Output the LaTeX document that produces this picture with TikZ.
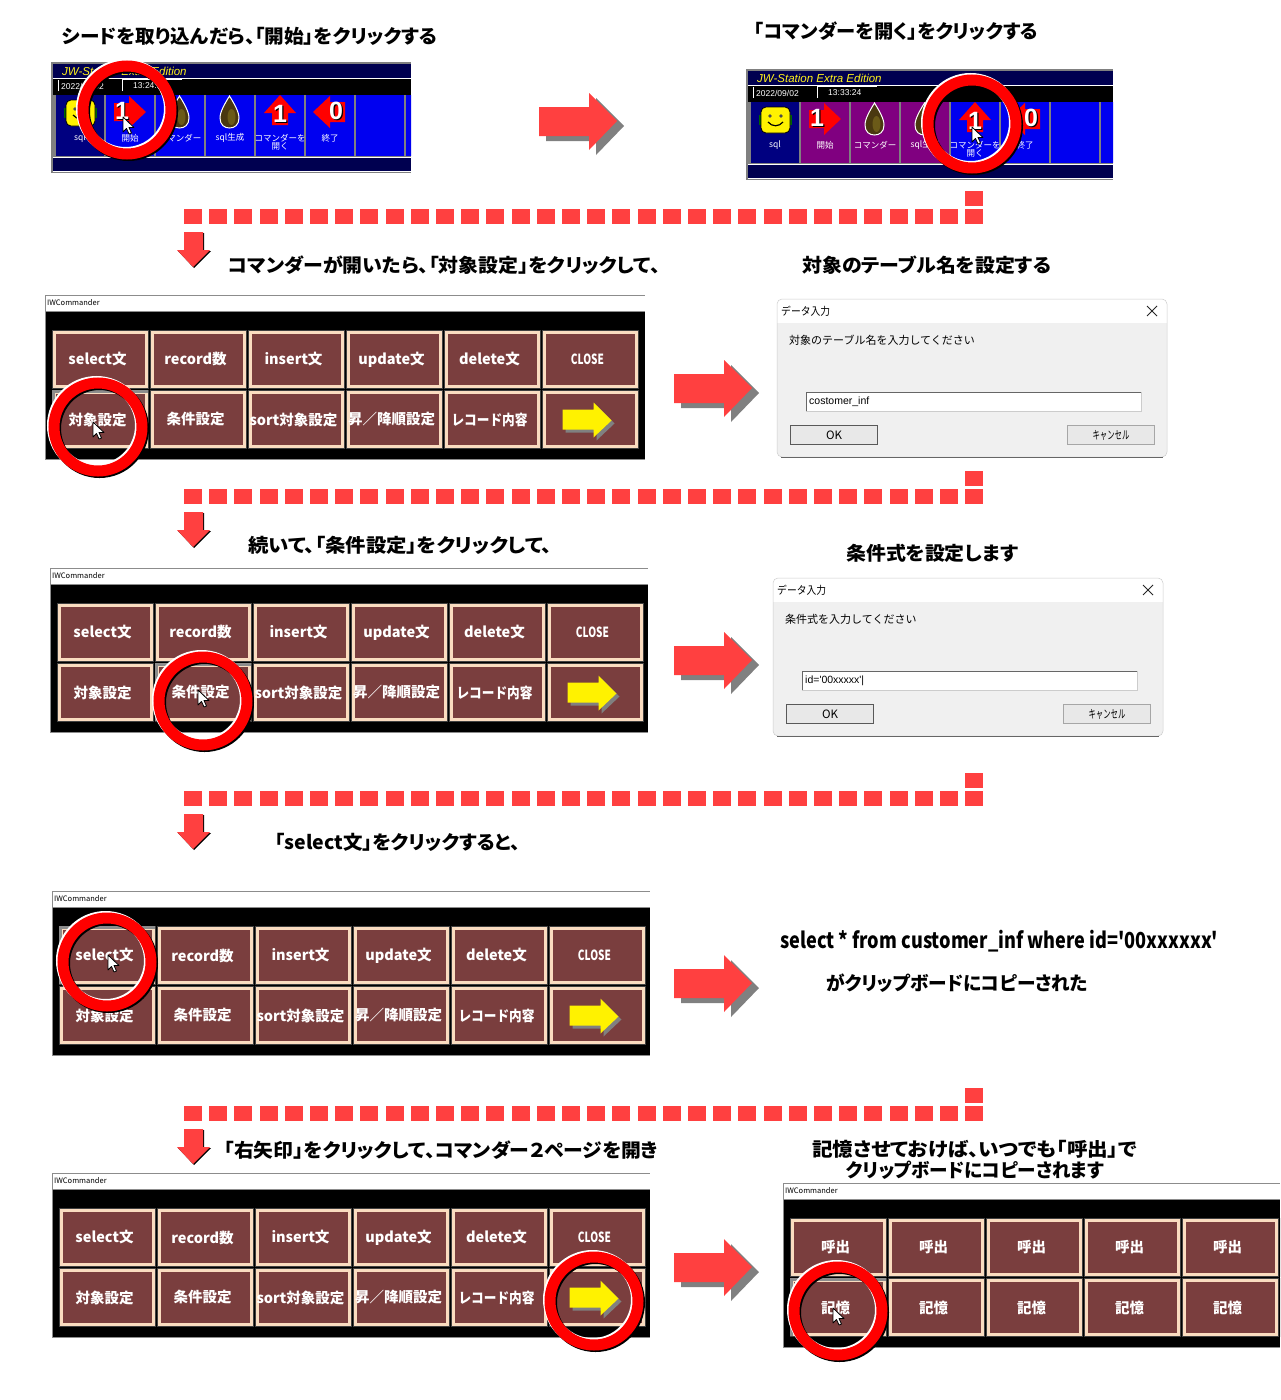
\documentclass[tikz,border=0pt]{standalone}
\usepackage{graphicx}
\usepackage{fontspec}
\usepackage{tikz}
\usetikzlibrary{calc}
\setmainfont{Noto Sans CJK JP}
\newfontfamily\latinfont{Liberation Sans}
\newfontfamily\headfont[RawFeature=+palt]{Noto Sans CJK JP}
\newfontfamily\closefont[FakeStretch=0.72]{Noto Sans CJK JP}
\definecolor{arrowred}{HTML}{FF4040}
\definecolor{btnfill}{HTML}{7A3E3E}
\definecolor{btnedge}{HTML}{FADCC0}
\definecolor{navyband}{HTML}{000050}
\definecolor{navytile}{HTML}{000080}
\definecolor{tileblue}{HTML}{0000F0}
\definecolor{tilepurple}{HTML}{800080}
\definecolor{dialogbody}{HTML}{F0F0F0}
\definecolor{eggbrown}{HTML}{4A3810}
\definecolor{eggolive}{HTML}{6B5A18}
\tikzstyle{headline} = [anchor=west, inner sep=0pt, font=\headfont\fontsize{19}{19}\selectfont\bfseries]
\tikzstyle{cmdbtn} = [rectangle, draw=btnedge, fill=btnfill, line width=3pt, minimum width=92pt, minimum height=54pt, inner sep=0pt, text=white, font=\fontsize{14.5}{14.5}\selectfont\bfseries, preaction={draw=black!75, line width=5pt}]
\tikzstyle{pressedline} = [draw=black!45, line width=3pt]
\tikzstyle{wintitle} = [anchor=west, inner sep=0pt, font=\fontsize{7.5}{7.5}\selectfont]
\tikzstyle{tilelabel} = [inner sep=0pt, text=white, font=\fontsize{8.5}{9}\selectfont]
\tikzstyle{bigdigit} = [inner sep=0pt, font=\latinfont\fontsize{25}{25}\selectfont\bfseries]
\tikzstyle{dlgtext} = [anchor=west, inner sep=0pt, font=\fontsize{11}{11}\selectfont]
\tikzstyle{dlgbtn} = [rectangle, fill=black!9, inner sep=0pt, minimum width=87pt, minimum height=19pt, font=\fontsize{11.5}{11.5}\selectfont]
\tikzstyle{ringred} = [circle, draw=red, line width=11pt, minimum size=88pt, inner sep=0pt]
\tikzstyle{ringwhite} = [ringred, draw=white]
\tikzstyle{ringblack} = [ringred, draw=black]
\tikzstyle{cursorpath} = [fill=white, draw=black, line width=0.8pt, line join=round]
\newcommand{\fitw}[2]{\resizebox{#1pt}{\height}{#2}}
\newcommand{\closelabel}{{\closefont\fontsize{14}{14}\selectfont\bfseries CLOSE}}
\newcommand{\recordlabel}{\fitw{76}{レコード内容}}
% big arrow between two steps
\newcommand{\nextarrow}[2]{
    \fill[black!50] (#1+7,#2-9) -- (#1+57,#2-9) -- (#1+57,#2-23) -- (#1+85,#2+5) -- (#1+57,#2+34) -- (#1+57,#2+20) -- (#1+7,#2+20) -- cycle;
    \fill[arrowred] (#1,#2-14) -- (#1+50,#2-14) -- (#1+50,#2-28) -- (#1+78,#2) -- (#1+50,#2+29) -- (#1+50,#2+15) -- (#1,#2+15) -- cycle;
}
% row of squares and the small arrow under it
\newcommand{\dashrow}[1]{
    \foreach \i in {0,...,31}
        \fill[arrowred] (184+25.2*\i,#1) rectangle +(18,15);
    \fill[arrowred] (965,#1-18) rectangle +(18,15);
    \fill[black] (185,#1+24) -- (204,#1+24) -- (204,#1+42) -- (211,#1+42) -- (194,#1+59) -- (178,#1+42) -- (185,#1+42) -- cycle;
    \fill[arrowred] (184,#1+23) -- (203,#1+23) -- (203,#1+41) -- (210,#1+41) -- (193,#1+58) -- (177,#1+41) -- (184,#1+41) -- cycle;
}
\newcommand{\clickring}[3]{
    \node (#1w) [ringwhite] at (#2-1.5,#3-1.5) {};
    \node (#1b) [ringblack] at (#2+1.5,#3+1.5) {};
    \node (#1) [ringred] at (#2,#3) {};
}
\newcommand{\mousecursor}[2]{
    \draw[cursorpath] (#1,#2) -- (#1,#2+15) -- (#1+3.5,#2+11.5) -- (#1+6,#2+17) -- (#1+8.5,#2+16) -- (#1+6,#2+10.5) -- (#1+11,#2+10.5) -- cycle;
}
% commander window: name, x, y, width, first row, second row
\newcommand{\cmdpanel}[6]{
    \begin{scope}[shift={(#2,#3)}]
        \fill[black] (0,16) rectangle (#4,164);
        \fill[white] (0,0) rectangle (#4,16);
        \draw[black!45, line width=0.8pt] (0,164) -- (0,0) -- (#4,0);
        \draw[black!45, line width=0.8pt] (0,164) -- (#4,164) (0,16) -- (#4,16);
        \node (#1title) [wintitle] at (2,8) {IWCommander};
        \foreach \lab [count=\n] in {#5}
            \node (#1r1c\n) [cmdbtn] at (55.5+98*\n-98,64.5) {\hspace*{-6pt}\lab};
        \foreach \lab [count=\n] in {#6}
            \node (#1r2c\n) [cmdbtn] at (55.5+98*\n-98,124.5) {\hspace*{-6pt}\lab};
    \end{scope}
}
\newcommand{\yellowmark}[1]{
    \begin{scope}[shift={(#1.center)}]
        \fill[black!50] (-25,-7) -- (6,-7) -- (6,-14) -- (24,4) -- (6,21) -- (6,13) -- (-25,13) -- cycle;
        \fill[yellow] (-28,-10) -- (3,-10) -- (3,-17) -- (21,1) -- (3,18) -- (3,10) -- (-28,10) -- cycle;
    \end{scope}
}
\newcommand{\pressedbtn}[1]{
    \draw[pressedline] (#1.south west) |- (#1.north east);
}
% icons of the small tool strip
\newcommand{\eggicon}[2]{
    \begin{scope}[shift={(#1,#2)}]
        \draw[fill=eggbrown, draw=white, line width=1pt] (0,-16) .. controls (5,-8) and (9.5,0) .. (9.5,6) .. controls (9.5,13) and (5,16) .. (0,16) .. controls (-5,16) and (-9.5,13) .. (-9.5,6) .. controls (-9.5,0) and (-5,-8) .. (0,-16) -- cycle;
        \fill[eggolive] (2,5) ellipse (4pt and 8pt);
    \end{scope}
}
\newcommand{\digitmark}[4]{
    \node (#1s) [bigdigit, text=black] at (#2+1.2,#3+1.2) {#4};
    \node (#1) [bigdigit, text=white] at (#2,#3) {#4};
}
% tool strip: name, x, y, width, colour of tiles 2-4, time
\newcommand{\toolstrip}[6]{
    \begin{scope}[shift={(#2,#3)}]
        \clip (0,0) rectangle (#4,111);
        \fill[black!50] (0,0) rectangle (#4,111);
        \fill[navyband] (2,2) rectangle (#4,16);
        \fill[black] (2,17) rectangle (#4,33);
        \fill[white] (2,16) rectangle (#4,17);
        \fill[navyband] (2,96) rectangle (#4,109);
        \fill[white] (2,95) rectangle (#4,96);
        \fill[white] (2,109) rectangle (#4,110);
        \foreach \t in {1,...,7}
            \fill[tileblue] (5+50*\t,33) rectangle +(48,61);
        \foreach \t in {1,...,3}
            \fill[#5] (5+50*\t,33) rectangle +(48,61);
        \fill[navytile] (5,33) rectangle +(48,61);
        \node (#1name) [anchor=west, inner sep=0pt, text=yellow!90!white, font=\latinfont\fontsize{11.5}{11.5}\selectfont\itshape] at (11,9) {JW-Station Extra Edition};
        \draw[white, line width=0.8pt] (7,29) -- (7,18) (71,29) -- (71,18);
        \fill[white] (71,17) rectangle (131,18);
        \node (#1date) [anchor=west, inner sep=0pt, text=white, font=\latinfont\fontsize{8.5}{8.5}\selectfont] at (10,24) {2022/09/02};
        \node (#1time) [anchor=west, inner sep=0pt, text=white, font=\latinfont\fontsize{8.5}{8.5}\selectfont] at (82,24) {#6};
        % face
        \fill[green!40!black] (13,46) rectangle (46,56);
        \draw[fill=yellow, draw=black, line width=0.8pt, rounded corners=5pt] (15,38) rectangle (44,64);
        \fill[black!70] (24,47) circle (1.8pt) (35,47) circle (1.8pt);
        \draw[black, line width=1.2pt] (22,53) .. controls (26,58) and (33,58) .. (37,53);
        \node (#1sql) [tilelabel] at (29,76) {sql};
        % start
        \fill[red] (63,41) -- (78,41) -- (78,34) -- (95,50) -- (78,66) -- (78,59) -- (63,59) -- cycle;
        \digitmark{#1one}{71}{49}{1}
        \node (#1start) [tilelabel] at (79,76) {開始};
        \eggicon{128.5}{50}
        \node (#1cmd) [tilelabel] at (129,76) {コマンダー};
        \eggicon{178.5}{50}
        \node (#1gen) [tilelabel] at (179,76) {sql生成};
        % open
        \fill[red] (229,33) -- (245,51) -- (237,51) -- (237,63) -- (221,63) -- (221,51) -- (213,51) -- cycle;
        \digitmark{#1two}{229}{52}{1}
        \node (#1open) [tilelabel, align=center] at (229,80) {コマンダーを\\[-1pt]開く};
        % end
        \fill[red] (262,50) -- (279,34) -- (279,40) -- (294,40) -- (294,60) -- (279,60) -- (279,66) -- cycle;
        \digitmark{#1zero}{285}{49}{0}
        \node (#1end) [tilelabel] at (279,76) {終了};
    \end{scope}
}
% input dialog: name, x, y, prompt, input
\newcommand{\inputdialog}[5]{
    \begin{scope}[shift={(#2,#3)}]
        \begin{scope}
            \clip[rounded corners=5pt] (0,0) rectangle (390,158);
            \fill[white] (0,0) rectangle (390,24);
            \fill[dialogbody] (0,24) rectangle (390,158);
        \end{scope}
        \draw[black!20, line width=0.5pt, rounded corners=5pt] (0,0) rectangle (390,158);
        \draw[black!60, line width=0.8pt] (4,158) -- (386,158);
        \node (#1head) [dlgtext] at (4,12) {\fitw{49}{データ入力}};
        \draw[black!85, line width=0.8pt] (370,7) -- (380,17) (380,7) -- (370,17);
        \node (#1prompt) [dlgtext] at (12,41) {#4};
        \draw[fill=white, draw=black!20, line width=0.8pt] (29,93.5) rectangle (364,112);
        \draw[black!60, line width=1pt] (29,112) -- (29,93.5) -- (364,93.5);
        \node (#1input) [dlgtext, font=\latinfont\fontsize{10.5}{10.5}\selectfont] at (32,103) {#5};
        \node (#1ok) [dlgbtn, draw=black!65, line width=1.2pt] at (57,136) {OK};
        \node (#1cancel) [dlgbtn, draw=black!35, line width=0.8pt] at (334,136) {\fitw{37}{キャンセル}};
    \end{scope}
}
\begin{document}
\begin{tikzpicture}[x=1pt,y=-1pt]
    \useasboundingbox (0,0) rectangle (1280,1400);
    \clip (0,0) rectangle (1280,1400);
    \fill[white] (0,0) rectangle (1280,1400);
    % step titles
    \node (title1) [headline] at (62,36) {\fitw{375}{シードを取り込んだら、「開始」をクリックする}};
    \node (title2) [headline] at (754,31) {\fitw{284}{「コマンダーを開く」をクリックする}};
    \node (title3) [headline] at (228,265) {\fitw{432}{コマンダーが開いたら、「対象設定」をクリックして、}};
    \node (title4) [headline] at (802,265) {\fitw{249}{対象のテーブル名を設定する}};
    \node (title5) [headline] at (248,545) {\fitw{304}{続いて、「条件設定」をクリックして、}};
    \node (title6) [headline] at (846,553) {\fitw{172}{条件式を設定します}};
    \node (title7) [headline] at (275,842) {\fitw{245}{「select文」をクリックすると、}};
    \node (title8) [headline, font=\fontsize{22}{22}\selectfont\bfseries] at (780,941) {\fitw{438}{select * from customer\_inf where id=\textquotesingle 00xxxxxx\textquotesingle}};
    \node (title9) [headline] at (826,983) {\fitw{262}{がクリップボードにコピーされた}};
    \node (title10) [headline] at (224,1150) {\fitw{434}{「右矢印」をクリックして、コマンダー２ページを開き}};
    \node (title11) [headline] at (812,1149) {\fitw{325}{記憶させておけば、いつでも「呼出」で}};
    \node (title12) [headline] at (846,1170) {\fitw{258}{クリップボードにコピーされます}};
    % top strips
    \toolstrip{stripa}{51}{62}{360}{tileblue}{13:24:58}
    \toolstrip{stripb}{746}{69}{367}{tilepurple}{13:33:24}
    % commander windows
    \cmdpanel{pa}{45}{295}{600}{select文,record数,insert文,update文,delete文,\closelabel}{対象設定,条件設定,sort対象設定,昇／降順設定,\recordlabel,{}}
    \cmdpanel{pb}{50}{568}{598}{select文,record数,insert文,update文,delete文,\closelabel}{対象設定,条件設定,sort対象設定,昇／降順設定,\recordlabel,{}}
    \cmdpanel{pc}{52}{891}{598}{select文,record数,insert文,update文,delete文,\closelabel}{対象設定,条件設定,sort対象設定,昇／降順設定,\recordlabel,{}}
    \cmdpanel{pd}{52}{1173}{598}{select文,record数,insert文,update文,delete文,\closelabel}{対象設定,条件設定,sort対象設定,昇／降順設定,\recordlabel,{}}
    \cmdpanel{pe}{783}{1183}{497}{呼出,呼出,呼出,呼出,呼出,{}}{記憶,記憶,記憶,記憶,記憶,{}}
    \yellowmark{par2c6}
    \yellowmark{pbr2c6}
    \yellowmark{pcr2c6}
    \yellowmark{pdr2c6}
    \pressedbtn{par2c1}
    \pressedbtn{pbr2c2}
    \pressedbtn{pcr1c1}
    \pressedbtn{per2c1}
    % dialogs
    \inputdialog{dlga}{777}{299}{対象のテーブル名を入力してください}{costomer\_inf}
    \inputdialog{dlgb}{773}{578}{条件式を入力してください}{id=\textquotesingle 00xxxxx\textquotesingle |}
    % arrows between the steps
    \nextarrow{539}{121}
    \nextarrow{674}{388}
    \nextarrow{674}{660}
    \nextarrow{674}{983}
    \nextarrow{674}{1267}
    \dashrow{209}
    \dashrow{489}
    \dashrow{791}
    \dashrow{1106}
    % click marks
    \clickring{ringa}{127}{110}
    \clickring{ringb}{972}{124}
    \clickring{ringc}{98}{427}
    \clickring{ringd}{203}{701}
    \clickring{ringe}{107}{962}
    \clickring{ringf}{594}{1301}
    \clickring{ringg}{838}{1311}
    \mousecursor{123}{117}
    \mousecursor{972}{127}
    \mousecursor{93}{422}
    \mousecursor{198}{690}
    \mousecursor{108}{955}
    \mousecursor{833}{1308}
\end{tikzpicture}
\end{document}
